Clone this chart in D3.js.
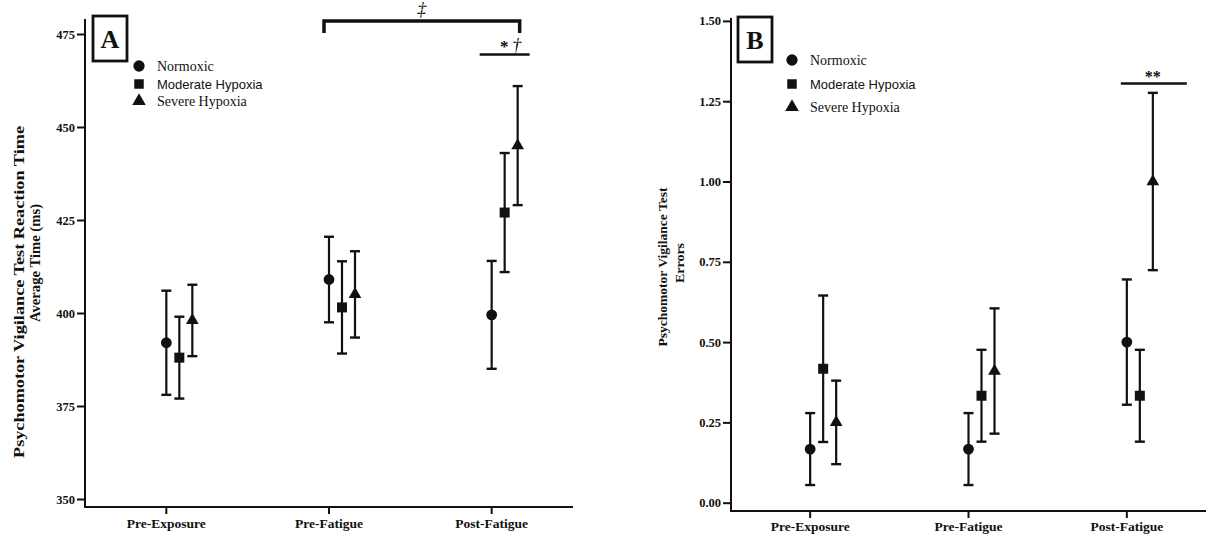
<!DOCTYPE html>
<html><head><meta charset="utf-8">
<script src="https://cdn.jsdelivr.net/npm/d3@7/dist/d3.min.js"></script>
<style>
body{margin:0;background:#fff;}
svg{display:block;}
text{fill:#111;}
</style></head>
<body>
<svg id="chart" width="1217" height="535"></svg>
<script>
// ---------- data ----------
const categories = ["Pre-Exposure", "Pre-Fatigue", "Post-Fatigue"];
const series = ["Normoxic", "Moderate Hypoxia", "Severe Hypoxia"];

// Panel A: PVT reaction time (ms), mean and error
const rtNormoxic = [392, 409, 399.5];
const rtModerate = [388, 401.5, 427];
const rtSevere = [398, 405, 445];
const rtNormoxicErr = [14, 11.5, 14.5];
const rtModerateErr = [11, 12.4, 16];
const rtSevereErr = [9.6, 11.6, 16];
const rtTicks = [350, 375, 400, 425, 450, 475];

// Panel B: PVT errors, mean and error
const errNormoxic = [0.167, 0.167, 0.5];
const errModerate = [0.417, 0.333, 0.333];
const errSevere = [0.25, 0.41, 1.0];
const errNormoxicErr = [0.112, 0.112, 0.195];
const errModerateErr = [0.228, 0.143, 0.143];
const errSevereErr = [0.13, 0.195, 0.276];
const errTicks = [0, 0.25, 0.5, 0.75, 1.0, 1.25, 1.5];

const INK = "#111";
const SERIF = "'Liberation Serif','Times New Roman',serif";
const SANS = "'Liberation Sans',Arial,sans-serif";
const svg = d3.select("#chart");

const symbolTypes = [d3.symbolCircle, d3.symbolSquare, d3.symbolTriangle];
const symbolSizes = [92, 100, 70];

function panel(cfg) {
  const g = svg.append("g");
  const x = d3.scaleBand().domain(categories).range([cfg.x0, cfg.x1]).padding(0);
  const off = d3.scalePoint().domain(series).range([0, 26]);
  const y = d3.scaleLinear().domain(cfg.domain).range([cfg.yBottom, cfg.yTop]);

  // y axis
  const ya = g.append("g").attr("transform", `translate(${cfg.x0},0)`)
    .call(d3.axisLeft(y).tickValues(cfg.ticks).tickSize(8).tickPadding(2).tickFormat(cfg.fmt));
  ya.select(".domain").remove();
  ya.selectAll(".tick line").attr("stroke", INK).attr("stroke-width", 2);
  ya.selectAll(".tick text").attr("font-family", SERIF).attr("font-weight", "bold")
    .attr("font-size", 12.5).attr("fill", INK);
  g.append("line").attr("x1", cfg.x0).attr("x2", cfg.x0)
    .attr("y1", cfg.axisTop).attr("y2", cfg.axisY + 1)
    .attr("stroke", INK).attr("stroke-width", 2);

  // x axis
  const xa = g.append("g").attr("transform", `translate(0,${cfg.axisY})`)
    .call(d3.axisBottom(x).tickSize(7).tickPadding(cfg.xPad));
  xa.select(".domain").remove();
  xa.selectAll(".tick line").attr("stroke", INK).attr("stroke-width", 2);
  xa.selectAll(".tick text").attr("font-family", SERIF).attr("font-weight", "bold")
    .attr("font-size", 13.5).attr("fill", INK);
  g.append("line").attr("x1", cfg.x0 - 1).attr("x2", cfg.x1)
    .attr("y1", cfg.axisY).attr("y2", cfg.axisY)
    .attr("stroke", INK).attr("stroke-width", 2);

  // points with error bars
  const cx = (c, s) => x(c) + x.bandwidth() / 2 + off(s);
  cfg.data.forEach((vals, si) => {
    const s = series[si];
    const errs = cfg.errs[si];
    categories.forEach((c, ci) => {
      const px = cx(c, s);
      const v = vals[ci], e = errs[ci];
      const yt = y(v + e), yb = y(v - e);
      g.append("line").attr("x1", px).attr("x2", px).attr("y1", yt).attr("y2", yb)
        .attr("stroke", INK).attr("stroke-width", 2.2);
      [yt, yb].forEach(yy => g.append("line").attr("x1", px - 5).attr("x2", px + 5)
        .attr("y1", yy).attr("y2", yy).attr("stroke", INK).attr("stroke-width", 2.4));
      g.append("path").attr("d", d3.symbol().type(symbolTypes[si]).size(symbolSizes[si])())
        .attr("transform", `translate(${px},${y(v)})`).attr("fill", INK);
    });
  });

  // panel letter box
  g.append("rect").attr("x", cfg.box[0]).attr("y", cfg.box[1])
    .attr("width", cfg.box[2]).attr("height", cfg.box[3])
    .attr("fill", "none").attr("stroke", INK).attr("stroke-width", 2.8);
  g.append("text").attr("x", cfg.box[0] + cfg.box[2] / 2).attr("y", cfg.box[1] + 32)
    .attr("text-anchor", "middle").attr("font-family", SERIF).attr("font-weight", "bold")
    .attr("font-size", 26).text(cfg.letter);

  // legend
  const fonts = [[SERIF, 14], [SANS, 13], [SERIF, 14]];
  series.forEach((s, i) => {
    const ly = cfg.legY[i];
    g.append("path").attr("d", d3.symbol().type(symbolTypes[i]).size([100, 90, 80][i])())
      .attr("transform", `translate(${cfg.legX},${ly})`).attr("fill", INK);
    g.append("text").attr("x", cfg.legX + 18).attr("y", ly + 5)
      .attr("font-family", fonts[i][0]).attr("font-size", fonts[i][1]).text(s);
  });

  // y title
  cfg.titles.forEach(t => {
    g.append("text").attr("transform", `translate(${t.x},${t.y}) rotate(-90)`)
      .attr("text-anchor", "middle").attr("font-family", SERIF).attr("font-weight", "bold")
      .attr("font-size", t.size).attr("textLength", t.len).attr("lengthAdjust", "spacingAndGlyphs")
      .text(t.text);
  });
  return {x, y, g, cx};
}

// Panel A
const A = panel({
  x0: 85, x1: 573, axisY: 507, axisTop: 19, yBottom: 499, yTop: 34, xPad: 4,
  domain: [350, 475], ticks: rtTicks, fmt: d3.format("d"),
  data: [rtNormoxic, rtModerate, rtSevere], errs: [rtNormoxicErr, rtModerateErr, rtSevereErr],
  box: [93, 16, 34, 45], letter: "A", legX: 139, legY: [66, 84, 101],
  titles: [
    {x: 24, y: 292, size: 14, len: 332, text: "Psychomotor Vigilance Test Reaction  Time"},
    {x: 40, y: 263, size: 14, len: 118, text: "Average Time (ms)"}
  ]
});

// Panel B
const B = panel({
  x0: 731, x1: 1206, axisY: 511, axisTop: 18, yBottom: 502.7, yTop: 20.9, xPad: 3,
  domain: [0, 1.5], ticks: errTicks, fmt: d3.format(".2f"),
  data: [errNormoxic, errModerate, errSevere], errs: [errNormoxicErr, errModerateErr, errSevereErr],
  box: [738, 17, 34, 45], letter: "B", legX: 792, legY: [60, 84, 107],
  titles: [
    {x: 667, y: 267, size: 12.5, len: 159, text: "Psychomotor Vigilance Test"},
    {x: 684, y: 263, size: 12.5, len: 40, text: "Errors"}
  ]
});

// ---------- significance annotations ----------
// Panel A: bracket between Pre-Fatigue and Post-Fatigue (Severe Hypoxia)
{
  const xl = A.cx("Pre-Fatigue", "Normoxic") - 5;
  const xr = A.cx("Post-Fatigue", "Moderate Hypoxia") + 15;
  const yb = A.y(478.5);
  A.g.append("path").attr("d", `M${xl},${yb + 12} V${yb} H${xr} V${yb + 12}`)
    .attr("fill", "none").attr("stroke", INK).attr("stroke-width", 3.5);
  A.g.append("text").attr("x", (xl + xr) / 2).attr("y", yb - 6).attr("text-anchor", "middle")
    .attr("font-family", SERIF).attr("font-style", "italic").attr("font-size", 18).text("‡");
  const y2 = A.y(469.5);
  const xa = A.cx("Post-Fatigue", "Normoxic") - 12, xb = A.cx("Post-Fatigue", "Severe Hypoxia") + 12;
  A.g.append("line").attr("x1", xa).attr("x2", xb).attr("y1", y2).attr("y2", y2)
    .attr("stroke", INK).attr("stroke-width", 2.5);
  A.g.append("text").attr("x", A.cx("Post-Fatigue", "Moderate Hypoxia") - 0.5).attr("y", y2 - 2)
    .attr("text-anchor", "middle").attr("font-family", SERIF).attr("font-weight", "bold")
    .attr("font-size", 17).text("*");
  A.g.append("text").attr("x", A.cx("Post-Fatigue", "Severe Hypoxia") - 1).attr("y", y2 - 3)
    .attr("text-anchor", "middle").attr("font-family", SERIF).attr("font-style", "italic")
    .attr("font-size", 18).text("†");
}
// Panel B
{
  const y2 = B.y(1.305);
  const xa = B.cx("Post-Fatigue", "Normoxic") - 6, xb = B.cx("Post-Fatigue", "Severe Hypoxia") + 34;
  B.g.append("line").attr("x1", xa).attr("x2", xb).attr("y1", y2).attr("y2", y2)
    .attr("stroke", INK).attr("stroke-width", 2.5);
  B.g.append("text").attr("x", B.cx("Post-Fatigue", "Severe Hypoxia")).attr("y", y2 - 2)
    .attr("text-anchor", "middle").attr("font-family", SERIF).attr("font-weight", "bold")
    .attr("font-size", 16).text("**");
}
</script>
</body></html>
